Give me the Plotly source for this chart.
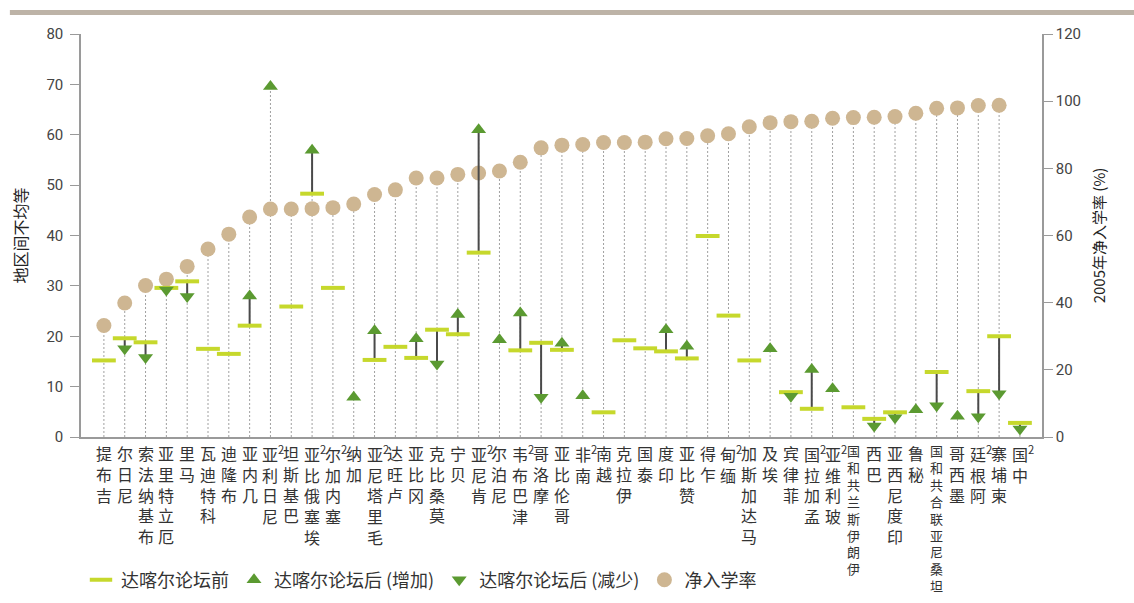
import plotly.graph_objects as go

names = ["吉布提", "尼日尔", "布基纳法索", "厄立特里亚", "马里", "科特迪瓦", "布隆迪", "几内亚",
         "尼日利亚", "巴基斯坦", "埃塞俄比亚", "塞内加尔", "加纳", "毛里塔尼亚", "卢旺达", "冈比亚",
         "莫桑比克", "贝宁", "肯尼亚", "尼泊尔", "津巴布韦", "摩洛哥", "哥伦比亚", "南非", "越南",
         "伊拉克", "泰国", "印度", "赞比亚", "乍得", "缅甸", "马达加斯加", "埃及", "菲律宾",
         "孟加拉国", "玻利维亚", "伊朗伊斯兰共和国", "巴西", "印度尼西亚", "秘鲁",
         "坦桑尼亚联合共和国", "墨西哥", "阿根廷", "柬埔寨", "中国"]
note2 = {"尼日利亚", "埃塞俄比亚", "塞内加尔", "毛里塔尼亚", "肯尼亚", "津巴布韦", "南非",
         "缅甸", "孟加拉国", "玻利维亚", "阿根廷", "中国"}

before = [15.2, 19.6, 18.8, 29.6, 30.9, 17.5, 16.5, 22.1, None, 25.9, 48.3, 29.6, None, 15.3,
          17.9, 15.7, 21.3, 20.4, 36.6, None, 17.2, 18.7, 17.3, None, 4.9, 19.2, 17.6, 17.0,
          15.6, 39.9, 24.1, 15.2, None, 8.9, 5.6, None, 5.9, 3.6, 4.9, None, 12.9, None, 9.1,
          20.0, 2.8]
after_up = [None, None, None, None, None, None, None, 28.0, 69.6, None, 56.9, None, 7.9, 21.1,
            None, 19.5, None, 24.3, 61.0, 19.3, 24.6, None, 18.6, 8.2, None, None, None, 21.3,
            18.0, None, None, None, 17.5, None, 13.4, 9.6, None, None, None, 5.4, None, 4.1,
            None, None, None]
after_down = [None, 17.5, 15.8, 29.2, 27.9, None, None, None, None, None, None, None, None, None,
              None, None, 14.5, None, None, None, None, 7.9, None, None, None, None, None, None,
              None, None, None, None, None, 8.1, None, None, None, 2.2, 3.8, None, 6.2, None,
              4.0, 8.6, 1.6]
enroll = [33.2, 39.9, 45.1, 47.0, 50.8, 56.0, 60.4, 65.5, 67.9, 67.9, 68.0, 68.3, 69.4, 72.2,
          73.6, 77.1, 77.1, 78.2, 78.6, 79.2, 81.8, 86.1, 86.9, 87.1, 87.7, 87.7, 87.8, 88.8,
          88.9, 89.7, 90.3, 92.4, 93.6, 93.9, 94.0, 94.9, 95.1, 95.2, 95.4, 96.4, 97.9, 98.0,
          98.7, 98.8, None]

LEFT_MAX, RIGHT_MAX = 80, 120
ratio = RIGHT_MAX / LEFT_MAX
x = list(range(len(names)))

C_BAR = "#c6d82c"
C_TRI = "#5b9a31"
C_CIR = "#ceb692"
NUM_FONT = "Liberation Sans Narrow, Roboto, Arial, sans-serif"
CJK = "Noto Sans CJK SC"

# dotted guide lines (in enrollment-axis units)
dx, dy = [], []
for i in x:
    vals = []
    if enroll[i] is not None:
        vals.append(enroll[i])
    for v in (before[i], after_up[i], after_down[i]):
        if v is not None:
            vals.append(v * ratio)
    dx += [i, i, None]
    dy += [0, max(vals), None]

# solid connectors (inequality axis)
cx, cy = [], []
for i in x:
    a = after_up[i] if after_up[i] is not None else after_down[i]
    if before[i] is not None and a is not None:
        cx += [i, i, None]
        cy += [before[i], a, None]

fig = go.Figure()
fig.add_trace(go.Scatter(x=dx, y=dy, mode="lines", yaxis="y",
                         line=dict(color="#a0a0a0", width=1, dash="2px,2px"),
                         showlegend=False, hoverinfo="skip"))
fig.add_trace(go.Scatter(x=x, y=enroll, mode="markers", yaxis="y", name="净入学率",
                         marker=dict(symbol="circle", size=15, color=C_CIR), legendrank=4))
fig.add_trace(go.Scatter(x=cx, y=cy, mode="lines", yaxis="y2",
                         line=dict(color="#4a4a4a", width=2),
                         showlegend=False, hoverinfo="skip"))
fig.add_trace(go.Scatter(x=x, y=before, mode="markers", yaxis="y2", name="达喀尔论坛前",
                         marker=dict(symbol="line-ew", size=17, color=C_BAR,
                                     line=dict(color=C_BAR, width=4)), legendrank=1))
fig.add_trace(go.Scatter(x=x, y=after_up, mode="markers", yaxis="y2", name="达喀尔论坛后 (增加)",
                         marker=dict(symbol="triangle-up", size=13, color=C_TRI), legendrank=2))
fig.add_trace(go.Scatter(x=x, y=after_down, mode="markers", yaxis="y2", name="达喀尔论坛后 (减少)",
                         marker=dict(symbol="triangle-down", size=13, color=C_TRI), legendrank=3))

# vertical category labels (read bottom to top, stacked)
for i, n in enumerate(names):
    chars = list(reversed(n))
    has_note = n in note2
    if has_note:
        chars[0] = chars[0] + "<sup>2</sup>"
    fs = 16 if len(n) <= 5 else 13
    fig.add_annotation(x=i, y=0, xref="x", yref="paper", yanchor="top", xanchor="center",
                       align="left", yshift=-2, xshift=3 if has_note else 0,
                       text="<br>".join(chars), showarrow=False,
                       font=dict(family=CJK, size=fs, color="#333333"))

fig.update_layout(
    width=1134, height=603,
    margin=dict(l=81, r=92, t=34, b=166, autoexpand=False),
    paper_bgcolor="white", plot_bgcolor="white",
    font=dict(family=CJK, color="#333333"),
    xaxis=dict(range=[-1.1, 45.06], showgrid=False, zeroline=False, showticklabels=False,
               ticks="", showline=True, linecolor="#9a9a9a", linewidth=1.5, fixedrange=True),
    yaxis=dict(range=[0, RIGHT_MAX], side="right", showgrid=False, zeroline=False,
               tickvals=[0, 20, 40, 60, 80, 100, 120], ticks="outside", ticklen=9,
               tickcolor="#9a9a9a", showline=True, linecolor="#9a9a9a", linewidth=1.5,
               tickfont=dict(family=NUM_FONT, size=15, color="#444444"),
               title=dict(text="2005年净入学率 (%)", font=dict(family=CJK, size=15, color="#222222"),
                          standoff=14)),
    yaxis2=dict(range=[0, LEFT_MAX], side="left", overlaying="y", showgrid=False, zeroline=False,
                tickvals=[0, 10, 20, 30, 40, 50, 60, 70, 80], ticks="outside", ticklen=9,
                tickcolor="#9a9a9a", showline=True, linecolor="#9a9a9a", linewidth=1.5,
                ticklabelstandoff=4,
                tickfont=dict(family=NUM_FONT, size=15, color="#444444"),
                title=dict(text="地区间不均等", font=dict(family=CJK, size=16, color="#222222"),
                           standoff=15)),
    legend=dict(orientation="h", x=0, xanchor="left", y=-0.309, yanchor="top",
                font=dict(family=CJK, size=18, color="#333333"), bgcolor="rgba(0,0,0,0)",
                itemwidth=30, tracegroupgap=0),
    shapes=[dict(type="rect", xref="paper", yref="paper", x0=-0.074, x1=1.1,
                 y0=1.0471, y1=1.0596, fillcolor="#bdb3a7", line=dict(width=0), layer="above")],
    showlegend=True,
)

fig.write_html("out.html", config={"displayModeBar": False},
               post_script="document.body.style.margin='0';")
